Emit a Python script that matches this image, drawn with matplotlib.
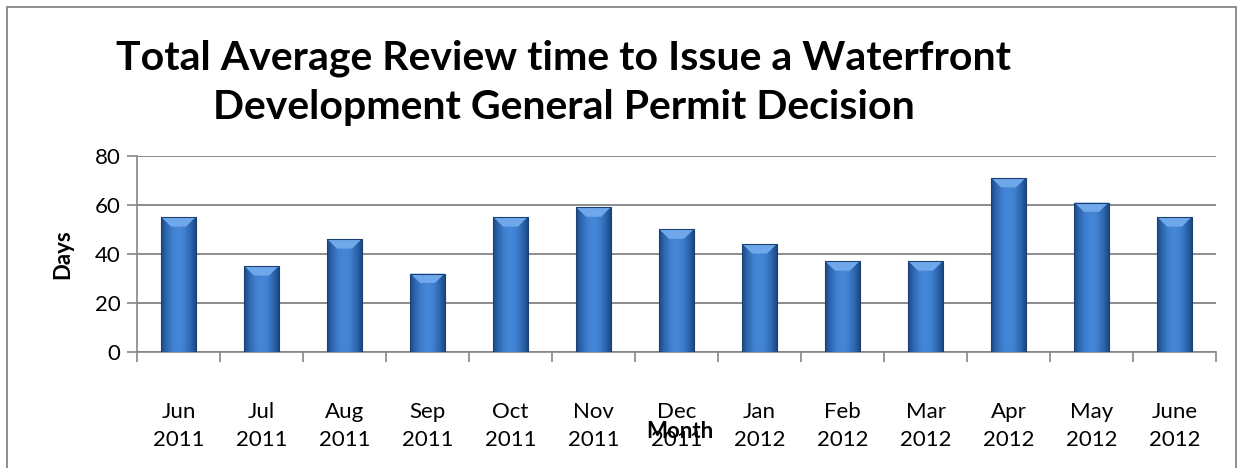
import matplotlib
matplotlib.use("Agg")
import matplotlib.pyplot as plt
import numpy as np
from matplotlib.patches import Polygon, Rectangle
from matplotlib.colors import LinearSegmentedColormap

months = ["Jun\n2011", "Jul\n2011", "Aug\n2011", "Sep\n2011", "Oct\n2011", "Nov\n2011",
          "Dec\n2011", "Jan\n2012", "Feb\n2012", "Mar\n2012", "Apr\n2012", "May\n2012", "June\n2012"]
days = [55, 35, 46, 32, 55, 59, 50, 44, 37, 37, 71, 61, 55]

plt.rcParams['font.family'] = ['Lato', 'DejaVu Sans']

fig = plt.figure(figsize=(12.41, 4.68), dpi=100)
fig.patch.set_facecolor('white')
# outer chart border
fig.add_artist(Rectangle((7/1241, -0.01), 1229/1241, 1 - 7/468 + 0.01, transform=fig.transFigure,
                         fill=False, edgecolor='#868686', linewidth=1.3))

ax = fig.add_axes([137/1241, 1 - 352/468, (1216-137)/1241, (352-156)/468])
x = np.arange(len(days))
width = 0.41
bars = ax.bar(x, days, width=width, color='none', edgecolor='none', zorder=3)

cmap = LinearSegmentedColormap.from_list('bar', ['#1d4a86', '#2f6ab4', '#3f80cf', '#4688d8', '#3f80cf', '#2f6ab4', '#1d4a86'])
grad = np.linspace(0, 1, 64).reshape(1, -1)
for b in bars:
    x0, w, h = b.get_x(), b.get_width(), b.get_height()
    im = ax.imshow(grad, extent=[x0, x0 + w, 0, h], aspect='auto', cmap=cmap, zorder=3, interpolation='bilinear')
    im.set_clip_path(b)
    bev = 3.8
    inset = w * 0.28
    ax.add_patch(Polygon([[x0, h], [x0 + w, h], [x0 + w - inset, h - bev], [x0 + inset, h - bev]],
                         closed=True, facecolor='#6fa8ea', edgecolor='none', zorder=4))
    ax.add_patch(Rectangle((x0, 0), w, h, fill=False, edgecolor='#1a3f73', linewidth=0.8, zorder=5))

ax.set_xlim(-0.5, len(days) - 0.5)
ax.set_ylim(0, 80)
ax.set_yticks([0, 20, 40, 60, 80])
ax.set_xticks(x)
ax.set_xticklabels(months, fontsize=16, linespacing=1.5)
ax.set_xticks(np.arange(-0.5, len(days), 1), minor=True)
ax.tick_params(axis='x', which='major', length=0, pad=36)
ax.tick_params(axis='x', which='minor', length=7, color='#868686', width=1.2, direction='out')
ax.tick_params(axis='y', length=7, color='#868686', width=1.2, labelsize=16, pad=5)
ax.yaxis.grid(True, color='#8c8c8c', linewidth=1.4, zorder=0)
ax.set_axisbelow(True)
for s in ['top', 'right']:
    ax.spines[s].set_visible(False)
for s in ['left', 'bottom']:
    ax.spines[s].set_color('#868686')
    ax.spines[s].set_linewidth(1.2)

ax.set_ylabel('Days', fontsize=16, fontweight='bold', labelpad=15)
fig.text(680/1241, 1 - 432/468, 'Month', fontsize=16, fontweight='bold', ha='center', va='center')

fig.text(564/1241, 1 - 83/468, 'Total Average Review time to Issue a Waterfront\nDevelopment General Permit Decision',
         fontsize=29.5, fontweight='bold', ha='center', va='center', linespacing=1.4)

fig.savefig('out.png', dpi=100)
